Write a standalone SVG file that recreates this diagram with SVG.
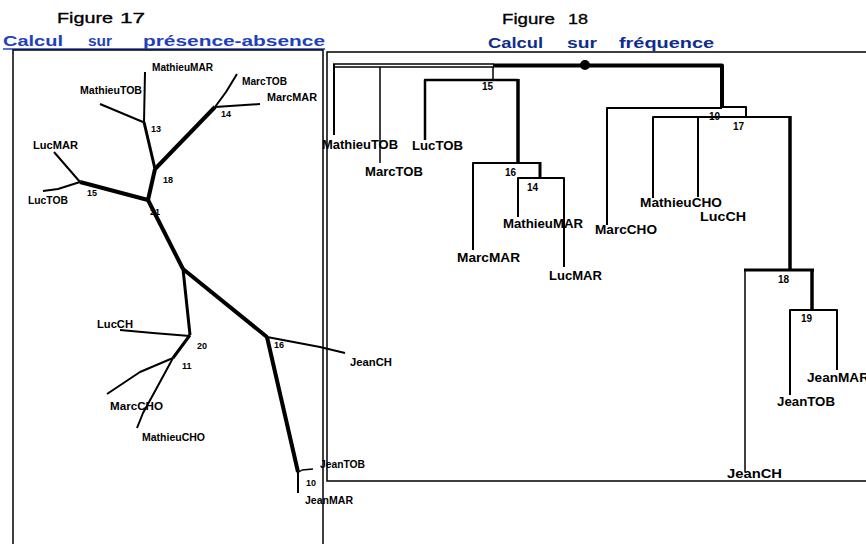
<svg xmlns="http://www.w3.org/2000/svg" width="866" height="544" viewBox="0 0 866 544">
<style>
.bg{fill:#ffffff}
.box{fill:none;stroke:#000;stroke-width:1.5}
.fig{font-family:"Liberation Sans",Arial,sans-serif;font-size:14px;fill:#000;font-weight:normal;stroke:#000;stroke-width:0.3}
.t1{font-family:"Liberation Sans",Arial,sans-serif;font-size:14px;font-weight:bold;fill:#1f3fbf}
.t2{font-family:"Liberation Sans",Arial,sans-serif;font-size:14px;font-weight:bold;fill:#0e2d8e}
.lf{font-family:"Liberation Sans",Arial,sans-serif;font-size:10px;font-weight:bold;fill:#000}
.rf{font-family:"Liberation Sans",Arial,sans-serif;font-size:12px;font-weight:bold;fill:#000}
.ln{font-family:"Liberation Sans",Arial,sans-serif;font-size:9px;font-weight:bold;fill:#000}
.rn{font-family:"Liberation Sans",Arial,sans-serif;font-size:10px;font-weight:bold;fill:#000}
.c{fill:none;stroke:#000;stroke-linejoin:round;stroke-linecap:butt}
.w1{stroke-width:1.3}
.w2{stroke-width:2}
.w3{stroke-width:3}
.w4{stroke-width:4}
</style>
<rect class="bg" x="0" y="0" width="866" height="544"/>

<g id="titles">
  <text class="fig" x="57" y="23" textLength="56" lengthAdjust="spacingAndGlyphs">Figure</text>
  <text class="fig" x="120" y="23" textLength="25" lengthAdjust="spacingAndGlyphs">17</text>
  <text class="t1" x="3" y="46" textLength="60" lengthAdjust="spacingAndGlyphs">Calcul</text>
  <text class="t1" x="88" y="46" textLength="24" lengthAdjust="spacingAndGlyphs">sur</text>
  <text class="t1" x="143" y="46" textLength="182" lengthAdjust="spacingAndGlyphs">présence-absence</text>
  <line x1="3" y1="49" x2="325" y2="49" stroke="#1f3fbf" stroke-width="1.5"/>
  <text class="fig" x="502" y="24" textLength="53" lengthAdjust="spacingAndGlyphs">Figure</text>
  <text class="fig" x="568" y="24" textLength="20" lengthAdjust="spacingAndGlyphs">18</text>
  <text class="t2" x="488" y="48" textLength="55" lengthAdjust="spacingAndGlyphs">Calcul</text>
  <text class="t2" x="567" y="48" textLength="30" lengthAdjust="spacingAndGlyphs">sur</text>
  <text class="t2" x="619" y="48" textLength="95" lengthAdjust="spacingAndGlyphs">fréquence</text>
</g>

<g id="frames">
  <rect class="box" x="13" y="50" width="310" height="510"/>
  <rect class="box" x="327" y="52" width="545" height="429"/>
</g>

<!-- Figure 17 connectors -->
<g id="connectors-fig17">
  <polyline class="c w2" points="145,72 144,122"/>
  <polyline class="c w2" points="100,104 143,122"/>
  <polyline class="c w3" points="144,122 155,169"/>
  <polyline class="c w4" points="155,169 215,107"/>
  <polyline class="c w2" points="215,107 226,92 237,74"/>
  <polyline class="c w2" points="215,107 260,104"/>
  <polyline class="c w2" points="54,152 80,182"/>
  <polyline class="c w2" points="43,191 58,189 80,182"/>
  <polyline class="c w4" points="80,182 148,200"/>
  <polyline class="c w4" points="155,169 148,200"/>
  <polyline class="c w4" points="148,200 183,269"/>
  <polyline class="c w3" points="183,269 190,335"/>
  <polyline class="c w2" points="120,330 153,333 190,336"/>
  <polyline class="c w3" points="190,335 173,358"/>
  <polyline class="c w2" points="173,358 140,372 107,394"/>
  <polyline class="c w2" points="173,358 154,393 143,413 137,428"/>
  <polyline class="c w4" points="183,269 267,337"/>
  <polyline class="c w2" points="267,337 320,347 345,353"/>
  <polyline class="c w4" points="267,337 298,472"/>
  <polyline class="c w1" points="299,472 302,470 313,469"/>
  <polyline class="c w2" points="298,472 298,493"/>
</g>

<!-- Figure 17 nodes -->
<g id="f17-MathieuMAR"><text class="lf" x="152" y="71" textLength="61" lengthAdjust="spacingAndGlyphs">MathieuMAR</text></g>
<g id="f17-MathieuTOB"><text class="lf" x="80" y="94" textLength="62" lengthAdjust="spacingAndGlyphs">MathieuTOB</text></g>
<g id="f17-MarcTOB"><text class="lf" x="242" y="85" textLength="45" lengthAdjust="spacingAndGlyphs">MarcTOB</text></g>
<g id="f17-MarcMAR"><text class="lf" x="267" y="101" textLength="50" lengthAdjust="spacingAndGlyphs">MarcMAR</text></g>
<g id="f17-LucMAR"><text class="lf" x="33" y="149" textLength="45" lengthAdjust="spacingAndGlyphs">LucMAR</text></g>
<g id="f17-LucTOB"><text class="lf" x="28" y="204" textLength="40" lengthAdjust="spacingAndGlyphs">LucTOB</text></g>
<g id="f17-LucCH"><text class="lf" x="97" y="328" textLength="36" lengthAdjust="spacingAndGlyphs">LucCH</text></g>
<g id="f17-MarcCHO"><text class="lf" x="110" y="410" textLength="53" lengthAdjust="spacingAndGlyphs">MarcCHO</text></g>
<g id="f17-MathieuCHO"><text class="lf" x="142" y="441" textLength="63" lengthAdjust="spacingAndGlyphs">MathieuCHO</text></g>
<g id="f17-JeanCH"><text class="lf" x="350" y="366" textLength="42" lengthAdjust="spacingAndGlyphs">JeanCH</text></g>
<g id="f17-JeanTOB"><text class="lf" x="320" y="468" textLength="45" lengthAdjust="spacingAndGlyphs">JeanTOB</text></g>
<g id="f17-JeanMAR"><text class="lf" x="305" y="504" textLength="48" lengthAdjust="spacingAndGlyphs">JeanMAR</text></g>
<g id="f17-n13"><text class="ln" x="151" y="132">13</text></g>
<g id="f17-n14"><text class="ln" x="221" y="117">14</text></g>
<g id="f17-n18"><text class="ln" x="163" y="183">18</text></g>
<g id="f17-n15"><text class="ln" x="87" y="196">15</text></g>
<g id="f17-n21"><text class="ln" x="150" y="215">21</text></g>
<g id="f17-n20"><text class="ln" x="197" y="349">20</text></g>
<g id="f17-n11"><text class="ln" x="182" y="369">11</text></g>
<g id="f17-n16"><text class="ln" x="274" y="348">16</text></g>
<g id="f17-n10"><text class="ln" x="306" y="486">10</text></g>

<!-- Figure 18 connectors -->
<g id="connectors-fig18">
  <line class="c w1" x1="333" y1="64" x2="494" y2="64"/>
  <line class="c w1" x1="333" y1="67" x2="494" y2="67"/>
  <line class="c w2" x1="334" y1="64" x2="334" y2="135"/>
  <line class="c" stroke-width="1.5" x1="380" y1="67" x2="380" y2="163"/>
  <line class="c" stroke-width="1.5" x1="493" y1="67" x2="493" y2="80"/>
  <polyline class="c w4" points="493,65.5 722,65.5 722,108"/>
  <circle cx="585" cy="65" r="5" fill="#000"/>
  <polyline class="c" stroke-width="2.5" points="425,140 425,80 518,80"/>
  <line class="c" stroke-width="3.5" x1="518" y1="79" x2="518" y2="163"/>
  <polyline class="c w2" points="473,250 473,163 540,163"/>
  <line class="c w3" x1="540" y1="162" x2="540" y2="178"/>
  <polyline class="c w2" points="518,217 518,178 564,178 564,267"/>
  <polyline class="c w2" points="607,225 607,108 722,108"/>
  <polyline class="c w2" points="722,107 746,107 746,117"/>
  <polyline class="c w2" points="653,198 653,117 791,117"/>
  <line class="c w2" x1="698" y1="117" x2="698" y2="197"/>
  <line class="c" stroke-width="3.5" x1="790" y1="116" x2="790" y2="270"/>
  <line class="c" stroke-width="1.5" x1="745" y1="270" x2="745" y2="472"/>
  <line class="c w3" x1="744" y1="270" x2="814" y2="270"/>
  <line class="c" stroke-width="3.5" x1="812" y1="269" x2="812" y2="310"/>
  <polyline class="c w2" points="790,395 790,310 837,310 837,370"/>
</g>

<!-- Figure 18 nodes -->
<g id="f18-MathieuTOB"><text class="rf" x="322" y="149" textLength="76" lengthAdjust="spacingAndGlyphs">MathieuTOB</text></g>
<g id="f18-MarcTOB"><text class="rf" x="365" y="176" textLength="58" lengthAdjust="spacingAndGlyphs">MarcTOB</text></g>
<g id="f18-LucTOB"><text class="rf" x="412" y="150" textLength="51" lengthAdjust="spacingAndGlyphs">LucTOB</text></g>
<g id="f18-MarcMAR"><text class="rf" x="457" y="262" textLength="63" lengthAdjust="spacingAndGlyphs">MarcMAR</text></g>
<g id="f18-MathieuMAR"><text class="rf" x="503" y="228" textLength="80" lengthAdjust="spacingAndGlyphs">MathieuMAR</text></g>
<g id="f18-LucMAR"><text class="rf" x="549" y="280" textLength="53" lengthAdjust="spacingAndGlyphs">LucMAR</text></g>
<g id="f18-MarcCHO"><text class="rf" x="595" y="234" textLength="62" lengthAdjust="spacingAndGlyphs">MarcCHO</text></g>
<g id="f18-MathieuCHO"><text class="rf" x="640" y="207" textLength="82" lengthAdjust="spacingAndGlyphs">MathieuCHO</text></g>
<g id="f18-LucCH"><text class="rf" x="700" y="221" textLength="46" lengthAdjust="spacingAndGlyphs">LucCH</text></g>
<g id="f18-JeanCH"><text class="rf" x="727" y="478" textLength="55" lengthAdjust="spacingAndGlyphs">JeanCH</text></g>
<g id="f18-JeanTOB"><text class="rf" x="777" y="406" textLength="58" lengthAdjust="spacingAndGlyphs">JeanTOB</text></g>
<g id="f18-JeanMAR"><text class="rf" x="807" y="382" textLength="62" lengthAdjust="spacingAndGlyphs">JeanMAR</text></g>
<g id="f18-n15"><text class="rn" x="482" y="90">15</text></g>
<g id="f18-n16"><text class="rn" x="505" y="176">16</text></g>
<g id="f18-n14"><text class="rn" x="527" y="191">14</text></g>
<g id="f18-n10"><text class="rn" x="709" y="120">10</text></g>
<g id="f18-n17"><text class="rn" x="733" y="130">17</text></g>
<g id="f18-n18"><text class="rn" x="778" y="283">18</text></g>
<g id="f18-n19"><text class="rn" x="801" y="322">19</text></g>
</svg>
